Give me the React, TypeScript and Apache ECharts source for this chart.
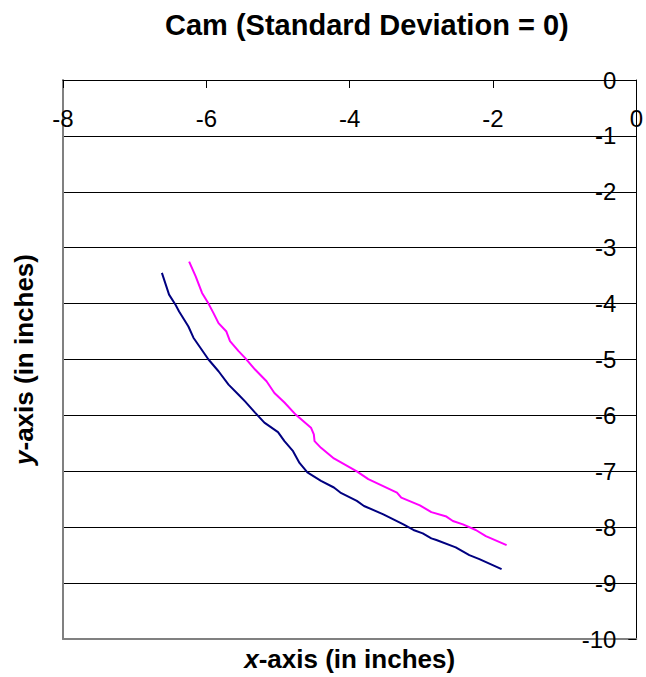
import React, { useEffect, useRef } from "react";
import * as echarts from "echarts";

const titleText = "Cam (Standard Deviation = 0)";
const xTicks = { min: -8, max: 0, step: 2 };
const yTicks = { min: -10, max: 0, step: 1 };

const navyX = [-6.62, -6.52, -6.43, -6.38, -6.25, -6.18, -5.97, -5.83, -5.69, -5.55, -5.46, -5.32, -5.19, -5.0, -4.91, -4.79, -4.7, -4.59, -4.4, -4.22, -4.13, -3.9, -3.8, -3.53, -3.39, -3.25, -3.11, -2.98, -2.86, -2.79, -2.52, -2.33, -2.19, -1.88];
const navyY = [-3.45, -3.84, -4.02, -4.14, -4.41, -4.61, -5.0, -5.21, -5.45, -5.63, -5.75, -5.95, -6.13, -6.3, -6.46, -6.64, -6.85, -7.02, -7.17, -7.29, -7.38, -7.53, -7.62, -7.77, -7.86, -7.95, -8.05, -8.11, -8.2, -8.23, -8.36, -8.5, -8.57, -8.75];

const magentaX = [-6.24, -6.15, -6.06, -5.97, -5.9, -5.83, -5.72, -5.67, -5.55, -5.46, -5.32, -5.16, -5.05, -4.91, -4.75, -4.54, -4.5, -4.49, -4.4, -4.22, -3.9, -3.74, -3.34, -3.28, -3.02, -2.86, -2.65, -2.56, -2.42, -2.24, -2.1, -1.81];
const magentaY = [-3.25, -3.51, -3.81, -4.0, -4.17, -4.35, -4.5, -4.67, -4.85, -4.97, -5.18, -5.39, -5.6, -5.77, -5.99, -6.22, -6.34, -6.46, -6.58, -6.77, -7.0, -7.14, -7.38, -7.47, -7.61, -7.73, -7.81, -7.89, -7.95, -8.05, -8.16, -8.32];

const FONT = "'Liberation Sans', Arial, sans-serif";

function pairs(xs: number[], ys: number[]) {
  return xs.map((x, i) => [x, ys[i]]);
}

export default function App() {
  const ref = useRef<HTMLDivElement>(null);
  useEffect(() => {
    if (!ref.current) return;
    const chart = echarts.init(ref.current, null, { renderer: "svg" });
    chart.setOption({
      animation: false,
      backgroundColor: "#fff",
      title: {
        text: titleText,
        left: 165,
        top: 10,
        padding: 0,
        textStyle: { fontFamily: FONT, fontSize: 29, fontWeight: "bold", color: "#000" },
      },
      grid: { left: 63, right: 4, top: 80, bottom: 37, containLabel: false },
      xAxis: [
        {
          type: "value",
          min: xTicks.min,
          max: xTicks.max,
          interval: xTicks.step,
          position: "top",
          axisLine: { show: true, onZero: false, lineStyle: { color: "#000", width: 1 } },
          axisTick: { show: true, inside: true, length: 8, lineStyle: { color: "#000" } },
          axisLabel: {
            show: true,
            inside: true,
            margin: 38,
            verticalAlign: "middle",
            showMinLabel: true,
            showMaxLabel: true,
            fontFamily: FONT,
            fontSize: 24,
            color: "#000",
          },
          splitLine: { show: false },
        },
        {
          type: "value",
          min: xTicks.min,
          max: xTicks.max,
          interval: xTicks.step,
          position: "bottom",
          axisLine: { show: true, onZero: false, lineStyle: { color: "#808080", width: 2 } },
          axisTick: { show: false },
          axisLabel: { show: false },
          splitLine: { show: false },
          name: "{i|x}-axis (in inches)",
          nameLocation: "middle",
          nameGap: 7,
          nameTextStyle: {
            fontFamily: FONT,
            fontSize: 26,
            fontWeight: "bold",
            color: "#000",
            rich: {
              i: { fontFamily: FONT, fontSize: 26, fontWeight: "bold", fontStyle: "italic", color: "#000" },
            },
          },
        },
      ],
      yAxis: [
        {
          type: "value",
          min: yTicks.min,
          max: yTicks.max,
          interval: yTicks.step,
          position: "right",
          axisLine: { show: true, onZero: false, lineStyle: { color: "#000", width: 1 } },
          axisTick: { show: true, inside: true, length: 8, lineStyle: { color: "#000" } },
          axisLabel: {
            show: true,
            inside: true,
            margin: 20,
            align: "right",
            showMinLabel: true,
            showMaxLabel: true,
            fontFamily: FONT,
            fontSize: 24,
            color: "#000",
          },
          splitLine: { show: true, lineStyle: { color: "#000", width: 1 } },
        },
        {
          type: "value",
          min: yTicks.min,
          max: yTicks.max,
          interval: yTicks.step,
          position: "left",
          axisLine: { show: true, onZero: false, lineStyle: { color: "#808080", width: 2 } },
          axisTick: { show: false },
          axisLabel: { show: false },
          splitLine: { show: false },
          name: "{i|y}-axis (in inches)",
          nameLocation: "middle",
          nameRotate: 90,
          nameGap: 26,
          nameTextStyle: {
            fontFamily: FONT,
            fontSize: 26,
            fontWeight: "bold",
            color: "#000",
            rich: {
              i: { fontFamily: FONT, fontSize: 26, fontWeight: "bold", fontStyle: "italic", color: "#000" },
            },
          },
        },
      ],
      series: [
        {
          type: "line",
          xAxisIndex: 0,
          yAxisIndex: 0,
          data: pairs(navyX, navyY),
          showSymbol: false,
          symbol: "none",
          lineStyle: { color: "#000080", width: 2 },
          itemStyle: { color: "#000080" },
        },
        {
          type: "line",
          xAxisIndex: 0,
          yAxisIndex: 0,
          data: pairs(magentaX, magentaY),
          showSymbol: false,
          symbol: "none",
          lineStyle: { color: "#FF00FF", width: 2 },
          itemStyle: { color: "#FF00FF" },
        },
      ],
    });
    return () => chart.dispose();
  }, []);
  return (
    <div
      ref={ref}
      style={{ position: "fixed", left: 0, top: 0, width: 646, height: 677, background: "#fff" }}
    />
  );
}
